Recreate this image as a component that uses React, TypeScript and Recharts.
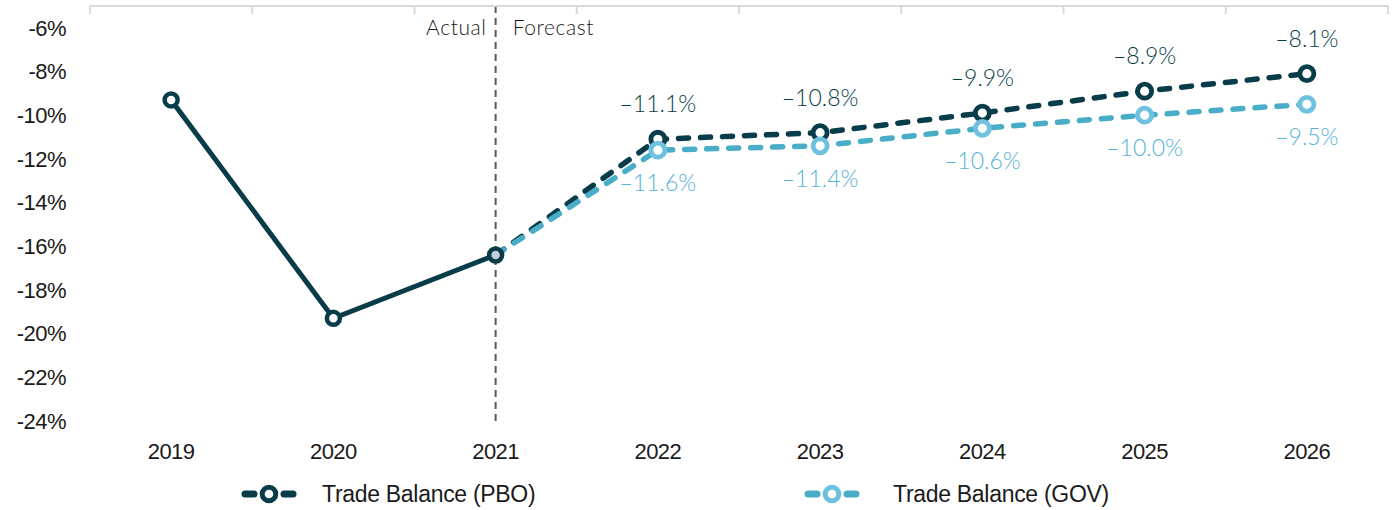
import React from 'react';
import { LineChart, Line, XAxis, YAxis, ReferenceLine, LabelList } from 'recharts';

const years = ['2019', '2020', '2021', '2022', '2023', '2024', '2025', '2026'];
const actual = [-9.3, -19.3, -16.4, null, null, null, null, null];
const pboForecast = [null, null, -16.4, -11.1, -10.8, -9.9, -8.9, -8.1];
const govForecast = [null, null, -16.4, -11.6, -11.4, -10.6, -10.0, -9.5];
const yTicks = [-6, -8, -10, -12, -14, -16, -18, -20, -22, -24];

const data = years.map((year, i) => ({
  year,
  actual: actual[i],
  pbo: pboForecast[i],
  gov: govForecast[i],
}));

const W = 1395;
const H = 510;
const MARGIN = { top: 5, right: 7, bottom: 49, left: 0 };
const Y_AXIS_W = 90;
const BAND = (W - MARGIN.right - Y_AXIS_W) / years.length;
const PAD = { left: BAND / 2, right: BAND / 2 };

const DARK = '#083c49';
const LIGHT_LINE = '#4aadc7';
const LIGHT_DOT = '#6fc1e0';
const LIGHT_TEXT = '#55b2d8';
const TICK_FONT = '"Liberation Sans", Arial, sans-serif';
const THIN_FONT = 'Lato, "Open Sans", sans-serif';

const fmt = (v: number) => `\u2013${Math.abs(v).toFixed(1)}%`;

const TopTick = (props: any) => {
  const { x, index } = props;
  const y0 = MARGIN.top + 1;
  const left = x - BAND / 2;
  return (
    <g>
      <line x1={left} x2={left} y1={y0} y2={y0 + 8} stroke="#d9d9d9" strokeWidth={2} />
      {index === years.length - 1 && (
        <line x1={x + BAND / 2} x2={x + BAND / 2} y1={y0} y2={y0 + 8} stroke="#d9d9d9" strokeWidth={2} />
      )}
    </g>
  );
};

const ActualDot = (props: any) => {
  const { cx, cy, payload, index } = props;
  if (payload.actual == null) return <g key={`a-${index}`} />;
  const fill = payload.year === '2021' ? '#c6cfe0' : '#ffffff';
  return <circle key={`a-${index}`} cx={cx} cy={cy} r={6.5} fill={fill} stroke={DARK} strokeWidth={4.5} />;
};

const makeForecastDot = (color: string) => (props: any) => {
  const { cx, cy, payload, index } = props;
  if (payload.year === '2021' || cx == null || cy == null) return <g key={`f-${index}`} />;
  return <circle key={`f-${index}`} cx={cx} cy={cy} r={7} fill="#ffffff" stroke={color} strokeWidth={4.8} />;
};

const makeLabel = (color: string, dy: number) => (props: any) => {
  const { x, y, value, index } = props;
  if (value == null || years[index] === '2021') return null;
  return (
    <text
      x={x}
      y={y + dy}
      textAnchor="middle"
      dominantBaseline="central"
      fill={color}
      fontFamily={THIN_FONT}
      fontWeight={300}
      fontSize={23}
    >
      {fmt(value)}
    </text>
  );
};

const DividerLabel = (props: any) => {
  const { viewBox } = props;
  const x = viewBox.x;
  const y = 26;
  const style = { fontFamily: THIN_FONT, fontWeight: 300, fontSize: 21, letterSpacing: 0.6 };
  return (
    <g>
      <text x={x - 9} y={y} textAnchor="end" dominantBaseline="central" fill="#1a1a1a" style={style}>
        Actual
      </text>
      <text x={x + 17} y={y} textAnchor="start" dominantBaseline="central" fill="#1a1a1a" style={style}>
        Forecast
      </text>
    </g>
  );
};

const LegendIcon = ({ line, dot }: { line: string; dot: string }) => (
  <svg width={56} height={24} style={{ display: 'block' }}>
    <line x1={4} x2={13} y1={12} y2={12} stroke={line} strokeWidth={7} strokeLinecap="round" />
    <circle cx={28} cy={12} r={6.8} fill="#fff" stroke={dot} strokeWidth={5} />
    <line x1={43} x2={52} y1={12} y2={12} stroke={line} strokeWidth={7} strokeLinecap="round" />
  </svg>
);

const legendItems = [
  { name: 'Trade Balance (PBO)', line: DARK, dot: DARK, iconX: 241, textX: 322 },
  { name: 'Trade Balance (GOV)', line: LIGHT_LINE, dot: LIGHT_DOT, iconX: 804, textX: 893 },
];

export default function App() {
  return (
    <div style={{ position: 'absolute', left: 0, top: 0, width: W, height: H, background: '#fff' }}>
      <LineChart width={W} height={H} data={data} margin={MARGIN}>
        <XAxis
          xAxisId="top"
          dataKey="year"
          orientation="top"
          height={1}
          padding={PAD}
          axisLine={{ stroke: '#d9d9d9', strokeWidth: 2 }}
          tickLine={false}
          tick={<TopTick />}
          interval={0}
        />
        <XAxis
          xAxisId="bottom"
          dataKey="year"
          padding={PAD}
          axisLine={false}
          tickLine={false}
          height={40}
          interval={0}
          tickMargin={16}
          tick={{ fontSize: 22, fill: '#1a1a1a', fontFamily: TICK_FONT, letterSpacing: -0.5 }}
        />
        <YAxis
          domain={[-24, -5]}
          ticks={yTicks}
          interval={0}
          width={Y_AXIS_W}
          axisLine={false}
          tickLine={false}
          tickMargin={18}
          tickFormatter={(v) => `${v}%`}
          tick={{ fontSize: 22, fill: '#1a1a1a', fontFamily: TICK_FONT, letterSpacing: -0.5 }}
        />
        <ReferenceLine
          xAxisId="bottom"
          x="2021"
          stroke="#595959"
          strokeWidth={2}
          strokeDasharray="7 5"
          label={<DividerLabel />}
        />
        <Line
          xAxisId="bottom"
          dataKey="pbo"
          stroke={DARK}
          strokeWidth={5.5}
          strokeDasharray="10 12"
          strokeLinecap="round"
          dot={makeForecastDot(DARK)}
          activeDot={false}
          isAnimationActive={false}
        >
          <LabelList dataKey="pbo" content={makeLabel(DARK, -36)} />
        </Line>
        <Line
          xAxisId="bottom"
          dataKey="gov"
          stroke={LIGHT_LINE}
          strokeWidth={5.5}
          strokeDasharray="10 12"
          strokeLinecap="round"
          dot={makeForecastDot(LIGHT_DOT)}
          activeDot={false}
          isAnimationActive={false}
        >
          <LabelList dataKey="gov" content={makeLabel(LIGHT_TEXT, 32)} />
        </Line>
        <Line
          xAxisId="bottom"
          dataKey="actual"
          stroke={DARK}
          strokeWidth={5}
          dot={ActualDot}
          activeDot={false}
          isAnimationActive={false}
        />
      </LineChart>
      {legendItems.map((item) => (
        <React.Fragment key={item.name}>
          <div style={{ position: 'absolute', left: item.iconX, top: 482 }}>
            <LegendIcon line={item.line} dot={item.dot} />
          </div>
          <div
            style={{
              position: 'absolute',
              left: item.textX,
              top: 480,
              fontFamily: TICK_FONT,
              fontSize: 23,
              letterSpacing: -0.3,
              color: '#1a1a1a',
              lineHeight: '28px',
              whiteSpace: 'nowrap',
            }}
          >
            {item.name}
          </div>
        </React.Fragment>
      ))}
    </div>
  );
}
